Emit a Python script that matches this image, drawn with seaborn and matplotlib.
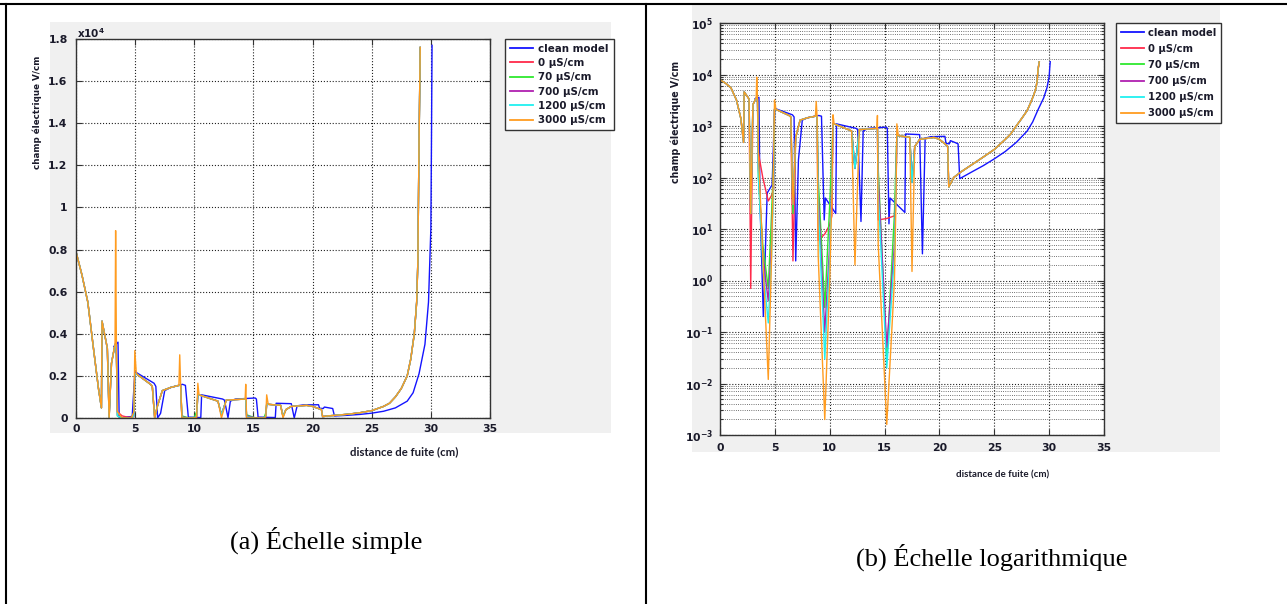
import numpy as np
import pandas as pd
import matplotlib
matplotlib.use("Agg")
import matplotlib.pyplot as plt
import seaborn as sns
from matplotlib.lines import Line2D
from matplotlib.patches import Rectangle
from matplotlib.ticker import FuncFormatter, MultipleLocator, LogLocator, NullFormatter

# ---------------- data ----------------
series_names = ["clean model", "0 µS/cm", "70 µS/cm", "700 µS/cm", "1200 µS/cm", "3000 µS/cm"]
series_colors = ["#1414ff", "#ff2a4a", "#2ee82e", "#b020b0", "#20f0f0", "#ff9c20"]

x_clean = [3.20, 3.55, 3.65, 3.95, 4.30, 4.75, 4.98, 6.60, 6.75, 6.90, 7.15, 7.50, 8.00, 9.00,
           9.25, 9.50, 9.60, 10.55, 10.62, 12.40, 12.55, 12.85, 13.05, 13.50, 15.15, 15.25,
           15.40, 15.50, 16.85, 16.92, 18.20, 18.45, 18.70, 19.20, 20.50, 20.60, 20.90, 21.00,
           21.50, 21.70, 21.85, 23.00, 24.00, 25.00, 26.00, 27.00, 28.00, 28.50, 29.00, 29.50,
           29.80, 30.00, 30.05, 30.10]
y_clean = [3400, 3600, 30, 0.2, 50, 72, 2200, 1650, 1500, 2.4, 220, 1300, 1450, 1600,
           1550, 15, 40, 20, 1100, 900, 850, 14, 800, 900, 950, 900,
           12.6, 40, 21, 700, 680, 3.3, 580, 620, 630, 460, 450, 520,
           470, 450, 95, 130, 170, 230, 320, 480, 800, 1200, 2100, 3500,
           5500, 9000, 13000, 17700]

x_cont = [0.00, 0.50, 1.00, 1.50, 1.90, 2.15, 2.20, 2.55, 2.65, 2.80, 3.00, 3.30, 3.35, 3.42,
          3.50, 3.90, 4.40, 4.70, 4.90, 4.97, 5.10, 6.30, 6.45, 6.65, 6.90, 7.30, 8.00, 8.70,
          8.77, 8.85, 8.95, 9.55, 10.00, 10.20, 10.30, 10.40, 12.00, 12.30, 12.70, 14.30,
          14.35, 14.42, 15.20, 15.90, 16.05, 16.12, 16.25, 17.30, 17.50, 17.75, 18.20, 19.50,
          20.00, 20.50, 20.75, 20.85, 21.30, 22.00, 23.00, 24.00, 25.00, 26.00, 26.50, 27.00,
          27.50, 28.00, 28.30, 28.60, 28.80, 28.90, 29.00, 29.10]
y_0us = [7900, 6800, 5500, 3200, 1400, 480, 4600, 3600, 3300, 0.7, 2600, 3500, 3500, 3000,
         300, 100, 35, 45, 60, 2100, 2100, 1600, 1500, 2.4, 600, 1300, 1450, 1550,
         1550, 1550, 6, 8, 12, 18, 1100, 1100, 800, 150, 850, 900,
         900, 15, 16, 18, 80, 650, 650, 600, 80, 400, 550, 600,
         550, 450, 400, 65, 100, 130, 180, 250, 350, 550, 700, 1000,
         1400, 2000, 2800, 4000, 5500, 7400, 13000, 17600]
y_70us = [7900, 6800, 5500, 3200, 1400, 480, 4600, 3600, 3300, 20, 2600, 3500, 3500, 3000,
          100, 5, 0.7, 20, 250, 2100, 2100, 1600, 1500, 20, 600, 1300, 1450, 1550,
          1550, 1550, 100, 0.3, 30, 300, 1100, 1100, 800, 150, 850, 900,
          900, 150, 0.03, 20, 250, 650, 650, 600, 80, 400, 550, 600,
          550, 450, 400, 65, 100, 130, 180, 250, 350, 550, 700, 1000,
          1400, 2000, 2800, 4000, 5500, 7400, 13000, 17600]
y_700us = [7900, 6800, 5500, 3200, 1400, 480, 4600, 3600, 3300, 20, 2600, 3500, 3500, 3000,
           150, 3, 0.4, 5, 150, 2100, 2100, 1600, 1500, 30, 600, 1300, 1450, 1550,
           1550, 1550, 50, 0.1, 5, 100, 1100, 1100, 800, 150, 850, 900,
           900, 100, 0.05, 5, 100, 650, 650, 600, 80, 400, 550, 600,
           550, 450, 400, 65, 100, 130, 180, 250, 350, 550, 700, 1000,
           1400, 2000, 2800, 4000, 5500, 7400, 13000, 17600]
y_1200us = [7900, 6800, 5500, 3200, 1400, 480, 4600, 3600, 3300, 20, 2600, 3500, 3500, 3000,
            100, 2, 0.15, 3, 100, 2100, 2100, 1600, 1500, 30, 600, 1300, 1450, 1550,
            1550, 1550, 30, 0.03, 3, 80, 1100, 1100, 800, 150, 850, 900,
            900, 50, 0.02, 3, 100, 650, 650, 600, 80, 400, 550, 600,
            550, 450, 400, 65, 100, 130, 180, 250, 350, 550, 700, 1000,
            1400, 2000, 2800, 4000, 5500, 7400, 13000, 17600]
y_3000us = [7900, 6800, 5500, 3200, 1400, 480, 4600, 3600, 3300, 20, 2600, 3500, 8900, 3000,
            300, 3, 0.012, 3, 300, 3200, 2100, 1600, 1500, 30, 600, 1300, 1450, 1550,
            3000, 1500, 3, 0.002, 1, 50, 1650, 1100, 800, 2, 850, 900,
            1600, 5, 0.0016, 1, 50, 1100, 650, 600, 1.5, 400, 550, 600,
            550, 450, 400, 65, 100, 130, 180, 250, 350, 550, 700, 1000,
            1400, 2000, 2800, 4000, 5500, 7400, 13000, 17600]

x_ticks = [0, 5, 10, 15, 20, 25, 30, 35]
xlabel = "distance de fuite (cm)"
ylabel = "champ électrique V/cm"
caption_a = "(a) Échelle simple"
caption_b = "(b) Échelle logarithmique"

# ---------------- table ----------------
frames = [pd.DataFrame({"x": x_clean, "y": y_clean, "series": series_names[0]})]
for name, ys in zip(series_names[1:], [y_0us, y_70us, y_700us, y_1200us, y_3000us]):
    frames.append(pd.DataFrame({"x": x_cont, "y": ys, "series": name}))
df = pd.concat(frames, ignore_index=True)
palette = dict(zip(series_names, series_colors))

plt.rcParams["font.family"] = ["DejaVu Sans"]
plt.rcParams["font.weight"] = "bold"
plt.rcParams["mathtext.fontset"] = "dejavusans"

W, H = 1287, 604
fig = plt.figure(figsize=(W / 100, H / 100), dpi=100)
fig.patch.set_facecolor("white")


def fx(x):
    return x / W


def fy(y):
    return 1 - y / H


# gray figure backgrounds (MATLAB style)
for (x0, y0, x1, y1) in [(50, 22, 611, 433), (692, 5, 1220, 452)]:
    fig.patches.append(Rectangle((fx(x0), fy(y1)), (x1 - x0) / W, (y1 - y0) / H,
                                 transform=fig.transFigure, facecolor="#f0f0f0",
                                 edgecolor="none", zorder=-10))

ax1 = fig.add_axes([fx(76), fy(418), (490 - 76) / W, (418 - 39) / H])
ax2 = fig.add_axes([fx(720), fy(435), (1104 - 720) / W, (435 - 23) / H])

for ax, lsize in ((ax1, 7.8), (ax2, 7.8)):
    ax.set_zorder(5)
    sns.lineplot(data=df, x="x", y="y", hue="series", hue_order=series_names,
                 palette=palette, estimator=None, sort=False, legend=False,
                 linewidth=1.0, ax=ax)
    ax.set_facecolor("white")
    ax.set_xlim(0, 35)
    ax.set_xticks(x_ticks)
    ax.set_xlabel("")
    ax.set_ylabel("")
    for s in ax.spines.values():
        s.set_color("#333333")
        s.set_linewidth(1.0)
    ax.tick_params(which="both", direction="in", top=True, right=True,
                   labelsize=lsize, width=0.8, colors="#333333", labelcolor="#1a1a2a")
    ax.tick_params(which="major", length=4)
    ax.tick_params(which="minor", length=2)

# linear panel
ax1.set_ylim(0, 18000)
ax1.yaxis.set_major_locator(MultipleLocator(2000))
ax1.yaxis.set_major_formatter(FuncFormatter(lambda v, p: f"{v / 1e4:g}"))
ax1.grid(True, which="major", linestyle=":", color="#222222", linewidth=0.8)
ax1.tick_params(axis="y", pad=6)
ax1.tick_params(axis="x", pad=4)
fig.text(fx(77), fy(33), r"$\mathbf{x10^{4}}$", fontsize=7.5, ha="left", va="center", color="#1a1a2a")

# log panel
ax2.set_yscale("log")
ax2.set_ylim(1e-3, 1e5)
ax2.yaxis.set_major_locator(LogLocator(base=10, numticks=20))
ax2.yaxis.set_minor_locator(LogLocator(base=10, subs=np.arange(2, 10), numticks=20))
ax2.yaxis.set_minor_formatter(NullFormatter())
ax2.yaxis.set_major_formatter(FuncFormatter(lambda v, p: r"$\mathbf{10^{%d}}$" % round(np.log10(v))))
ax2.grid(True, which="major", linestyle=":", color="#222222", linewidth=0.8)
ax2.grid(True, which="minor", axis="y", linestyle=":", color="#444444", linewidth=0.6)
ax2.tick_params(axis="y", pad=5)
ax2.tick_params(axis="x", pad=6)

# legends
handles = [Line2D([], [], color=palette[n], linewidth=1.3) for n in series_names]
for ax, (lx, ly), fs, lsp in [(ax1, (505, 39), 7.4, 0.42), (ax2, (1116, 23), 7.2, 0.62)]:
    leg = ax.legend(handles, series_names, loc="upper left",
                    bbox_to_anchor=(fx(lx), fy(ly)), bbox_transform=fig.transFigure,
                    borderaxespad=0, fancybox=False, edgecolor="#333333", framealpha=1,
                    fontsize=fs, handlelength=2.3, handletextpad=0.5,
                    labelspacing=lsp, borderpad=0.45)
    leg.get_frame().set_linewidth(1.0)
    for t in leg.get_texts():
        t.set_color("#1a1a2a")

# axis titles
fig.text(fx(404), fy(452), xlabel, family="Lato", fontweight="bold", fontsize=8.2,
         ha="center", va="center", color="#1a1a2a")
fig.text(fx(37), fy(112), ylabel, rotation=90, fontsize=6.3, fontweight="bold",
         ha="center", va="center", color="#1a1a2a")
fig.text(fx(1003), fy(475), xlabel, family="Lato", fontweight="bold", fontsize=7,
         ha="center", va="center", color="#1a1a2a")
fig.text(fx(676), fy(122), ylabel, rotation=90, fontsize=6.85, fontweight="bold",
         ha="center", va="center", color="#1a1a2a")

# captions
fig.text(fx(326), fy(540), caption_a, family="Liberation Serif", fontweight="normal",
         fontsize=19, ha="center", va="center", color="black")
fig.text(fx(992), fy(557), caption_b, family="Liberation Serif", fontweight="normal",
         fontsize=19, ha="center", va="center", color="black")

# table borders
for (x0, y0, x1, y1) in [(0, 4, W, 4), (5.5, 4, 5.5, H), (646, 4, 646, H)]:
    fig.add_artist(Line2D([fx(x0), fx(x1)], [fy(y0), fy(y1)], transform=fig.transFigure,
                          color="black", linewidth=1.5))

fig.savefig("out.png", dpi=100)
